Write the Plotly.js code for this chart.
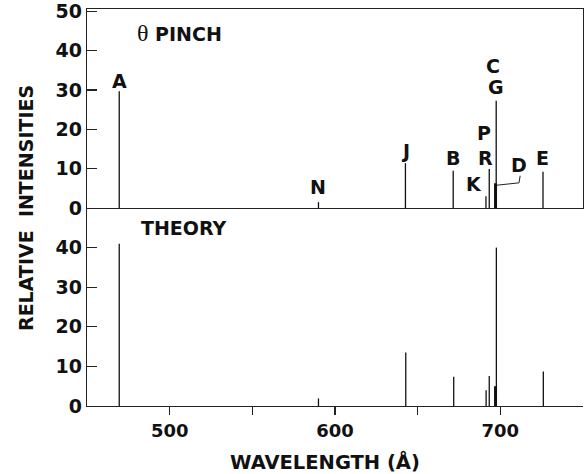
<!DOCTYPE html>
<html>
<head>
<meta charset="utf-8">
<script src="https://cdn.plot.ly/plotly-3.0.1.min.js"></script>
<style>html,body{margin:0;padding:0;background:#fff;}#chart{width:584px;height:474px;}</style>
</head>
<body>
<div id="chart"></div>
<script>
// Line wavelengths (Å) and relative intensities
const lineNames      = ["A", "N", "J", "B", "K", "R", "D", "CG", "E"];
const pinchWave      = [469.5, 590.0, 642.6, 671.5, 691.3, 693.3, 697.1, 697.5, 725.8];
const pinchIntensity = [29.7, 1.5, 11.4, 9.5, 3.0, 9.9, 6.3, 27.3, 9.2];
const theoryWave     = [469.5, 590.0, 642.8, 671.8, 691.4, 693.3, 697.1, 697.6, 726.0];
const theoryIntensity= [41.0, 1.9, 13.5, 7.4, 4.0, 7.6, 5.0, 40.0, 8.7];
const thickLine      = "D";   // blend of several close lines, drawn heavier

// Line labels in the θ-pinch panel: [text, wavelength, intensity level]
const labelText  = ["A", "N", "J", "B", "K", "P", "R", "C", "G", "D", "E"];
const labelWave  = [469.4, 589.6, 642.4, 671.2, 684.3, 690.3, 691.2, 695.8, 697.3, 711.5, 725.4];
const labelLevel = [32.3, 5.3, 14.5, 12.7, 6.0, 19.1, 12.8, 36.2, 30.7, 10.9, 12.7];

// Leader from the D label to its line
const dLeaderWave  = [698.0, 711.3, 712.0];
const dLeaderLevel = [5.8, 6.4, 8.2];

const xTicks  = [500, 600, 700];
const yTicksTop = [0, 10, 20, 30, 40, 50];
const yTicksBot = [0, 10, 20, 30, 40];

function sticks(waves, ints, names, yaxis, xaxis, thick) {
  const thin = {x: [], y: []}, heavy = {x: [], y: []};
  waves.forEach((w, i) => {
    const t = (names[i] === thick) ? heavy : thin;
    t.x.push(w, w, null);
    t.y.push(0, ints[i], null);
  });
  return [
    {x: thin.x, y: thin.y, xaxis: xaxis, yaxis: yaxis, mode: 'lines', type: 'scatter',
     line: {color: '#111', width: 1.3}, hoverinfo: 'skip', showlegend: false},
    {x: heavy.x, y: heavy.y, xaxis: xaxis, yaxis: yaxis, mode: 'lines', type: 'scatter',
     line: {color: '#111', width: 3}, hoverinfo: 'skip', showlegend: false}
  ];
}

const traces = [
  ...sticks(pinchWave, pinchIntensity, lineNames, 'y2', 'x2', thickLine),
  ...sticks(theoryWave, theoryIntensity, lineNames, 'y', 'x', thickLine),
  {x: dLeaderWave, y: dLeaderLevel, xaxis: 'x2', yaxis: 'y2', mode: 'lines', type: 'scatter',
   line: {color: '#222', width: 1}, hoverinfo: 'skip', showlegend: false}
];

const font = {family: 'DejaVu Sans, Verdana, sans-serif', color: '#111'};
const f = (size) => Object.assign({}, font, {size: size, weight: 'bold'});
const annotations = labelText.map((t, i) => ({
  text: t, x: labelWave[i], y: labelLevel[i], xref: 'x2', yref: 'y2',
  showarrow: false, font: f(19), xanchor: 'center', yanchor: 'middle'
}));
annotations.push(
  {text: '<span style="font-family:Liberation Serif;font-weight:normal;font-size:24px">θ</span> PINCH',
   x: 506, y: 44.6, xref: 'x2', yref: 'y2', showarrow: false,
   font: f(19), xanchor: 'center', yanchor: 'middle'},
  {text: 'THEORY', x: 508.7, y: 44.9, xref: 'x', yref: 'y', showarrow: false,
   font: f(19), xanchor: 'center', yanchor: 'middle'},
  {text: 'RELATIVE&nbsp;&nbsp;INTENSITIES', x: -0.124, y: 0.500, xref: 'paper', yref: 'paper',
   textangle: -90, showarrow: false, font: f(19),
   xanchor: 'center', yanchor: 'middle'},
  {text: 'WAVELENGTH (Å)', x: 0.479, y: -0.141, xref: 'paper', yref: 'paper',
   showarrow: false, font: f(19.5), xanchor: 'center', yanchor: 'middle'}
);

const common = {showgrid: false, zeroline: false, linecolor: '#222', linewidth: 1.3, tickcolor: '#222'};
const layout = {
  width: 584, height: 474,
  margin: {l: 87, r: 1, t: 9, b: 68},
  paper_bgcolor: '#fff', plot_bgcolor: '#fff',
  showlegend: false,
  xaxis: Object.assign({domain: [0, 1], range: [450, 750], anchor: 'y', tickvals: xTicks, ticktext: xTicks.map(String),
          ticks: 'outside', ticklen: 8, tickwidth: 1.2, showline: true, tickfont: f(18),
          minor: {tickvals: [550, 650], ticks: 'outside', ticklen: 8, tickcolor: '#222', showgrid: false}}, common),
  yaxis: Object.assign({domain: [0, 0.4987], range: [0, 50], anchor: 'x', tickvals: yTicksBot, ticktext: yTicksBot.map(String),
          ticks: 'inside', ticklen: 10, tickwidth: 1.2, showline: true, tickfont: f(19),
          ticklabeloverflow: 'allow'}, common),
  xaxis2: Object.assign({domain: [0, 1], range: [450, 750], anchor: 'y2', showticklabels: false, ticks: '',
           showline: true, mirror: true}, common),
  yaxis2: Object.assign({domain: [0.4987, 1], range: [0, 50.6], anchor: 'x2', tickvals: yTicksTop, ticktext: yTicksTop.map(String),
           ticks: 'inside', ticklen: 10, tickwidth: 1.2, showline: true, mirror: true, tickfont: f(19),
           ticklabeloverflow: 'allow'}, common),
  annotations: annotations
};

Plotly.newPlot('chart', traces, layout, {displayModeBar: false, staticPlot: true});
</script>
</body>
</html>
